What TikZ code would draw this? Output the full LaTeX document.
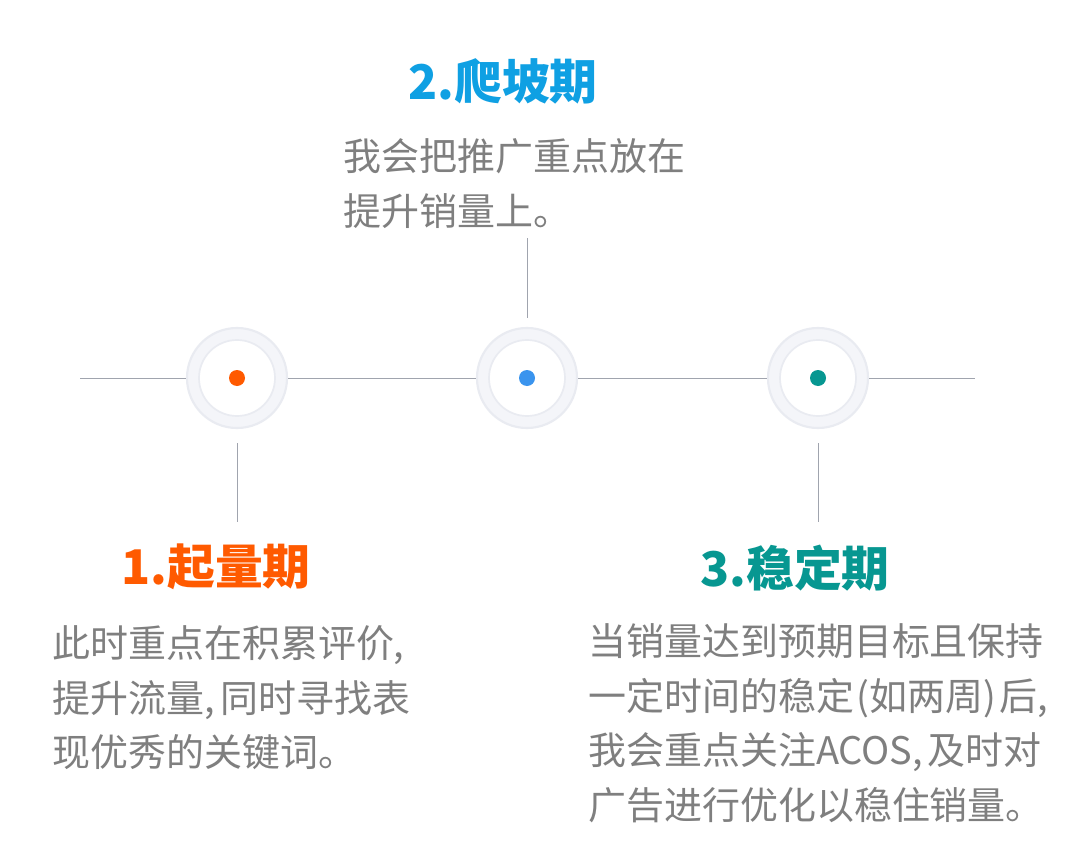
\documentclass[tikz,border=0pt]{standalone}
\usepackage{fontspec}
\setmainfont{Noto Sans CJK SC}
\definecolor{orangeA}{HTML}{FF5A00}
\definecolor{blueT}{HTML}{0FA0E3}
\definecolor{blueD}{HTML}{3A94EE}
\definecolor{tealA}{HTML}{079791}
\definecolor{txtgray}{HTML}{7F7F7F}
\definecolor{linegray}{HTML}{A0A4AE}
\definecolor{halofill}{HTML}{F4F5F9}
\definecolor{haloedge}{HTML}{E9EBF1}
\begin{document}
\begin{tikzpicture}[x=0.025cm,y=-0.025cm,
    conn/.style={draw=linegray,line width=0.6pt},
    halo/.style={circle,minimum size=2.5cm,inner sep=0pt,fill=halofill,draw=haloedge,line width=1.5pt},
    title/.style={font=\fontsize{34pt}{40pt}\selectfont\bfseries,inner sep=0pt,anchor=center},
    body/.style={font=\fontsize{27pt}{39pt}\selectfont,text=txtgray,align=left,inner sep=0pt,anchor=north west}]
    \useasboundingbox[fill=white] (0,0) rectangle (1080,867);
    % timeline
    \coordinate (hl) at (80,378);
    \coordinate (hr) at (975,378);
    \node[halo] (c1) at (237,378) {};
    \node[halo] (c2) at (527,378) {};
    \node[halo] (c3) at (818,378) {};
    \draw[conn] (hl) -- (c1) -- (c2) -- (c3) -- (hr);
    % inner rings and dots
    \draw[haloedge,fill=white,line width=1.2pt] (c1) circle (38);
    \draw[haloedge,fill=white,line width=1.2pt] (c2) circle (38);
    \draw[haloedge,fill=white,line width=1.2pt] (c3) circle (38);
    \fill[orangeA] (c1) circle (8);
    \fill[blueD] (c2) circle (8);
    \fill[tealA] (c3) circle (8);
    % stems
    \coordinate (s1a) at (237,443);
    \coordinate (s1b) at (237,522);
    \coordinate (s2a) at (527,238);
    \coordinate (s2b) at (527,318);
    \coordinate (s3a) at (818,443);
    \coordinate (s3b) at (818,522);
    \draw[conn] (s1a) -- (s1b);
    \draw[conn] (s2a) -- (s2b);
    \draw[conn] (s3a) -- (s3b);
    % phase 1
    \node[title,text=orangeA] (t1) at (216,567) {1.起量期};
    \node[body] (b1) at (52,625) {此时重点在积累评价,\\提升流量,\hspace{4pt}同时寻找表\\现优秀的关键词。};
    % phase 2
    \node[title,text=blueT] (t2) at (503,81) {2.爬坡期};
    \node[body] (b2) at (343,138) {我会把推广重点放在\\提升销量上。};
    % phase 3
    \node[title,text=tealA] (t3) at (795,568) {3.稳定期};
    \node[body] (b3) at (588,623) {当销量达到预期目标且保持\\一定时间的稳定\hspace{2pt}(如两周)\hspace{2pt}后,\\我会重点关注ACOS,\hspace{3pt}及时对\\广告进行优化以稳住销量。};
\end{tikzpicture}
\end{document}
